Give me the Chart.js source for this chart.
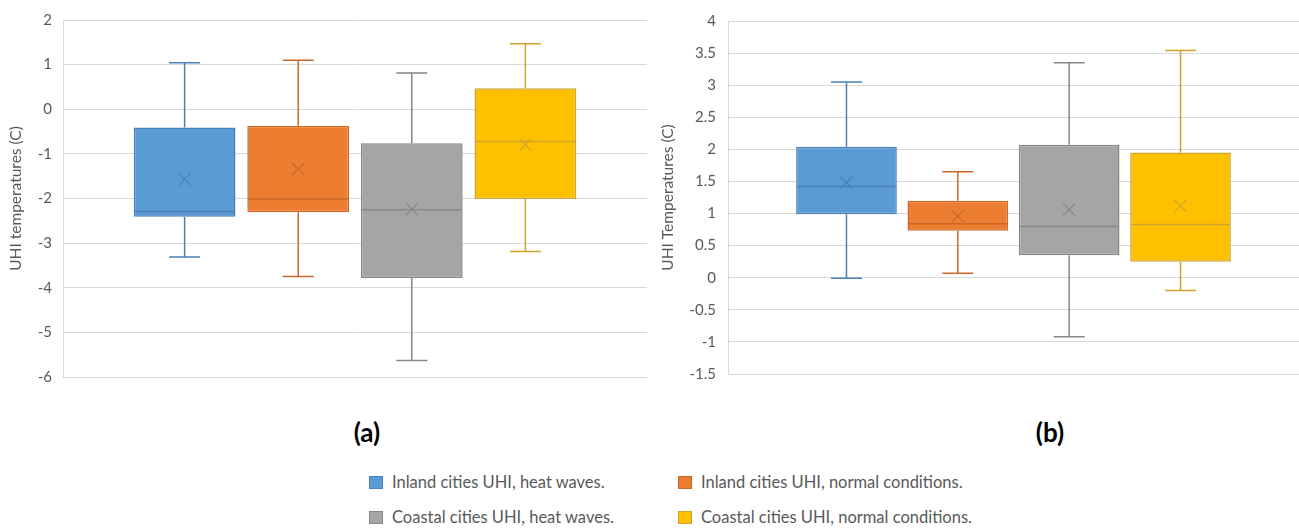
<!DOCTYPE html>
<html>
<head>
<meta charset="utf-8">
<script src="https://cdn.jsdelivr.net/npm/chart.js@4"></script>
<style>
  html, body { margin: 0; padding: 0; background: #ffffff; }
  #wrap { position: relative; width: 1299px; height: 528px; overflow: hidden; background: #fff; font-family: Lato, "Open Sans", sans-serif; }
  canvas { position: absolute; top: 0; }
  #cA { left: 0; }
  #cB { left: 650px; }
  .panel { position: absolute; top: 415px; font: bold 26px Lato, sans-serif; color: #000; width: 80px; margin-left: -40px; text-align: center; line-height: 34px; }
  .leg { position: absolute; display: flex; align-items: center; font-size: 16.5px; color: #595959; white-space: nowrap; line-height: 20px; }
  .leg span.sw { display: inline-block; width: 14px; height: 13px; margin-right: 9px; box-sizing: border-box; }
</style>
</head>
<body>
<div id="wrap">
  <canvas id="cA" width="660" height="400"></canvas>
  <canvas id="cB" width="649" height="400"></canvas>
  <div class="panel" style="left:367px">(a)</div>
  <div class="panel" style="left:1050px">(b)</div>
  <div id="legend"></div>
</div>
<script>
// Series (categories)
const categories = [
  'Inland cities UHI, heat waves.',
  'Inland cities UHI, normal conditions.',
  'Coastal cities UHI, heat waves.',
  'Coastal cities UHI, normal conditions.'
];
const fillColors   = ['#5B9BD5', '#ED7D31', '#A5A5A5', '#FFC000'];
const strokeColors = ['#4A7FBA', '#C96A2B', '#878787', '#CDA52C'];

// Panel (a): UHI temperatures (C)
const aMin    = [-3.31, -3.75, -5.63, -3.19];
const aQ1     = [-2.41, -2.31, -3.78, -2.01];
const aMedian = [-2.29, -2.01, -2.25, -0.72];
const aQ3     = [-0.41, -0.37, -0.76,  0.47];
const aMax    = [ 1.04,  1.10,  0.81,  1.47];
const aMean   = [-1.57, -1.34, -2.24, -0.80];
const aTicks  = { min: -6, max: 2, step: 1 };

// Panel (b): UHI Temperatures (C)
const bMin    = [-0.01, 0.07, -0.92, -0.20];
const bQ1     = [ 0.99, 0.73,  0.35,  0.25];
const bMedian = [ 1.42, 0.84,  0.80,  0.83];
const bQ3     = [ 2.04, 1.20,  2.07,  1.95];
const bMax    = [ 3.05, 1.65,  3.35,  3.54];
const bMean   = [ 1.48, 0.96,  1.06,  1.12];
const bTicks  = { min: -1.5, max: 4, step: 0.5 };

const boxPlugin = {
  id: 'boxWhisker',
  afterDatasetsDraw(chart) {
    const st = chart.options.plugins.boxWhisker;
    const y = chart.scales.y;
    const ctx = chart.ctx;
    ctx.save();
    chart.data.datasets.forEach((ds, i) => {
      const bar = chart.getDatasetMeta(i).data[0];
      if (!bar) return;
      const x = bar.x;
      const half = bar.width / 2;
      const c = strokeColors[i];
      const pMin = y.getPixelForValue(st.min[i]);
      const pMax = y.getPixelForValue(st.max[i]);
      const pQ1 = y.getPixelForValue(st.q1[i]);
      const pQ3 = y.getPixelForValue(st.q3[i]);
      const pMed = y.getPixelForValue(st.median[i]);
      const pMean = y.getPixelForValue(st.mean[i]);
      ctx.strokeStyle = c;
      ctx.lineWidth = 1.5;
      ctx.beginPath();
      // whiskers
      ctx.moveTo(x, pMax); ctx.lineTo(x, pQ3);
      ctx.moveTo(x, pQ1); ctx.lineTo(x, pMin);
      // caps
      ctx.moveTo(x - 15.5, pMax); ctx.lineTo(x + 15.5, pMax);
      ctx.moveTo(x - 15.5, pMin); ctx.lineTo(x + 15.5, pMin);
      // median
      ctx.moveTo(x - half + 1, pMed); ctx.lineTo(x + half - 1, pMed);
      ctx.stroke();
      // mean marker (x)
      ctx.lineWidth = 1.2;
      ctx.beginPath();
      ctx.moveTo(x - 6, pMean - 6); ctx.lineTo(x + 6, pMean + 6);
      ctx.moveTo(x + 6, pMean - 6); ctx.lineTo(x - 6, pMean + 6);
      ctx.stroke();
    });
    ctx.restore();
  }
};

function makeChart(id, st, ticks, title, opts) {
  const datasets = categories.map((name, i) => ({
    label: name,
    data: [[st.q1[i], st.q3[i]]],
    backgroundColor: fillColors[i],
    borderColor: strokeColors[i],
    borderWidth: 1.5,
    borderSkipped: false
  }));
  return new Chart(document.getElementById(id), {
    type: 'bar',
    data: { labels: [''], datasets },
    plugins: [boxPlugin],
    options: {
      responsive: false,
      animation: false,
      events: [],
      categoryPercentage: opts.catPct,
      barPercentage: opts.barPct,
      layout: { padding: opts.padding },
      plugins: {
        legend: { display: false },
        tooltip: { enabled: false },
        boxWhisker: st
      },
      scales: {
        x: { display: false },
        y: {
          min: ticks.min, max: ticks.max,
          afterFit(scale) { scale.width = opts.axisWidth; },
          ticks: {
            stepSize: ticks.step,
            color: '#595959',
            padding: opts.tickPad,
            font: { family: 'Lato', size: 15 },
            callback: (v) => String(Math.round(v * 10) / 10)
          },
          grid: { color: '#D9D9D9', lineWidth: 1, drawTicks: false },
          border: { display: true, color: '#D9D9D9', width: 1 },
          title: {
            display: true,
            text: title,
            color: '#595959',
            font: { family: 'Lato', size: 15.5 },
            padding: { top: opts.titlePad, bottom: 0 }
          }
        }
      }
    }
  });
}

makeChart('cA',
  { min: aMin, q1: aQ1, median: aMedian, q3: aQ3, max: aMax, mean: aMean },
  aTicks, 'UHI temperatures (C)',
  { padding: { left: 0, top: 19, right: 13, bottom: 23 }, axisWidth: 63, tickPad: 11, titlePad: 7, catPct: 0.778, barPct: 0.896 });

makeChart('cB',
  { min: bMin, q1: bQ1, median: bMedian, q3: bQ3, max: bMax, mean: bMean },
  bTicks, 'UHI Temperatures (C)',
  { padding: { left: 0, top: 17, right: 0, bottom: 26 }, axisWidth: 78, tickPad: 12, titlePad: 9, catPct: 0.78, barPct: 0.904 });

// Legend (HTML, built from the categories)
const legendPos = [
  { left: 369, top: 472 }, { left: 678, top: 472 },
  { left: 369, top: 507 }, { left: 678, top: 507 }
];
const legend = document.getElementById('legend');
categories.forEach((name, i) => {
  const d = document.createElement('div');
  d.className = 'leg';
  d.style.left = legendPos[i].left + 'px';
  d.style.top = legendPos[i].top + 'px';
  const sw = document.createElement('span');
  sw.className = 'sw';
  sw.style.background = fillColors[i];
  sw.style.border = '1px solid ' + strokeColors[i];
  d.appendChild(sw);
  d.appendChild(document.createTextNode(name));
  legend.appendChild(d);
});
</script>
</body>
</html>
